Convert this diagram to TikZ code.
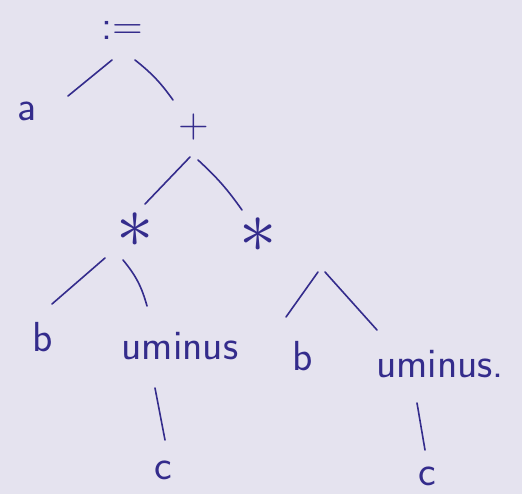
\documentclass[tikz,border=0pt]{standalone}
\usepackage{fontspec}
\usepackage{graphicx}
\definecolor{paper}{RGB}{229,227,239}
\definecolor{ink}{RGB}{52,44,140}
\begin{document}
\begin{tikzpicture}[x=1pt,y=-1pt,
  lbl/.style={inner sep=0pt, text=ink, font=\sffamily\fontsize{42}{42}\selectfont},
  star/.style={inner sep=0pt, text=ink, font=\fontsize{20}{20}\selectfont},
  edge/.style={draw=ink, line width=1.6pt, line cap=round}]
\fill[paper] (0,0) rectangle (522,494);
\useasboundingbox (0,0) rectangle (522,494);
% nodes
\node[lbl] (root) at (122,30) {:=};
\node[lbl] (a) at (27,111) {a};
\node[lbl] (plus) at (194,127) {+};
\node[star] (mulL) at (135,230) {\scalebox{3.6}{$\ast$}};
\node[star] (mulR) at (258,235) {\scalebox{3.6}{$\ast$}};
\node[lbl] (bL) at (43,337) {b};
\node[lbl] (uL) at (180,346) {uminus};
\node[lbl] (bR) at (303,356) {b};
\node[lbl] (uR) at (440,364) {uminus.};
\node[lbl] (cL) at (163,470) {c};
\node[lbl] (cR) at (427,476) {c};
% connectors
\draw[edge] ([shift={(-10,30)}]root.center) -- ([shift={(41,-15)}]a.center);
\draw[edge] ([shift={(13,30)}]root.center) to[bend left=8] ([shift={(-21,-27)}]plus.center);
\draw[edge] ([shift={(-4,30)}]plus.center) -- ([shift={(10,-26)}]mulL.center);
\draw[edge] ([shift={(4,33)}]plus.center) to[bend left=6] ([shift={(-16,-25)}]mulR.center);
\draw[edge] ([shift={(-30,28)}]mulL.center) -- ([shift={(9,-33)}]bL.center);
\draw[edge] ([shift={(-12,30)}]mulL.center) to[bend left=12] ([shift={(-33,-40)}]uL.center);
\draw[edge] ([shift={(60,37)}]mulR.center) -- ([shift={(-17,-39)}]bR.center);
\draw[edge] ([shift={(67,37)}]mulR.center) -- ([shift={(-63,-34)}]uR.center);
\draw[edge] ([shift={(-25,42)}]uL.center) -- ([shift={(2,-30)}]cL.center);
\draw[edge] ([shift={(-23,39)}]uR.center) -- ([shift={(-2,-26)}]cR.center);
\end{tikzpicture}
\end{document}
